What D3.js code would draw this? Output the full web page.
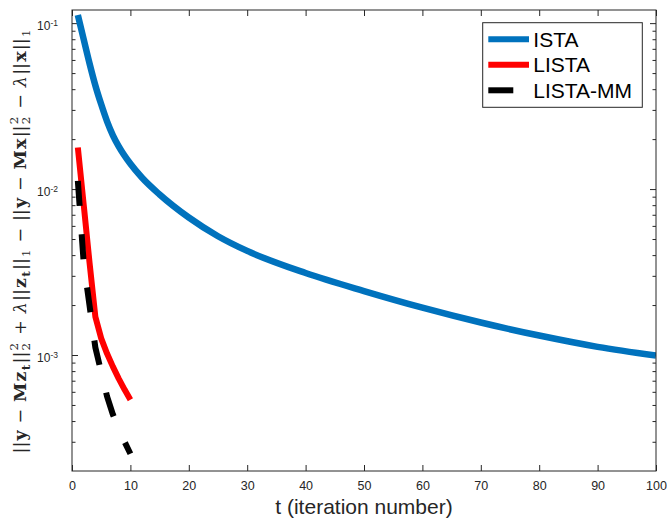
<!DOCTYPE html>
<html>
<head>
<meta charset="utf-8">
<script src="https://cdn.jsdelivr.net/npm/d3@7"></script>
<style>
  html, body { margin: 0; padding: 0; background: #fff; }
  svg { display: block; }
</style>
</head>
<body>
<svg id="chart" width="667" height="519"></svg>
<script>
// ---------------- data ----------------
const istaT = [1, 2, 3, 4, 5, 6, 7, 8, 10, 12, 15, 20, 25, 30, 40, 50, 60, 70, 80, 90, 100];
const istaValues = [0.112, 0.0799, 0.0572, 0.0421, 0.0324, 0.0256, 0.0211, 0.0181, 0.0142, 0.0117,
                    0.00928, 0.00674, 0.00520, 0.00424, 0.00312, 0.00243, 0.00193, 0.00157, 0.00131, 0.00112, 0.000992];
const listaT = [1, 2, 3, 4, 5, 6, 7, 8, 9, 10];
const listaValues = [0.0178, 0.00807, 0.00361, 0.00170, 0.00126, 0.00102, 0.000851, 0.000721, 0.000619, 0.000538];
const listaMMValues = [0.0112, 0.00361, 0.00199, 0.00111, 0.000788, 0.000563, 0.000438, 0.000360, 0.000300, 0.000254];
const seriesNames = ["ISTA", "LISTA", "LISTA-MM"];
const xTicks = [0, 10, 20, 30, 40, 50, 60, 70, 80, 90, 100];
const yMajorTicks = [1e-3, 1e-2, 1e-1];
const yMinorTicks = [3e-4, 4e-4, 5e-4, 6e-4, 7e-4, 8e-4, 9e-4,
                     2e-3, 3e-3, 4e-3, 5e-3, 6e-3, 7e-3, 8e-3, 9e-3,
                     2e-2, 3e-2, 4e-2, 5e-2, 6e-2, 7e-2, 8e-2, 9e-2];
const xLabel = "t (iteration number)";

// ---------------- layout ----------------
const W = 667, H = 519;
const m = { left: 72, right: 11, top: 10, bottom: 48 };
const pw = W - m.left - m.right, ph = H - m.top - m.bottom;
const axisColor = "#262626";
const svg = d3.select("#chart");
svg.append("rect").attr("width", W).attr("height", H).attr("fill", "#fff");

const x = d3.scaleLinear().domain([0, 100]).range([m.left, m.left + pw]);
const y = d3.scaleLog().domain([2e-4, 0.12]).range([m.top + ph, m.top]);

svg.append("defs").append("clipPath").attr("id", "clip")
  .append("rect").attr("x", m.left).attr("y", m.top).attr("width", pw).attr("height", ph);

// ---------------- axes ----------------
function styleAxis(g) {
  g.select(".domain").remove();
  g.selectAll(".tick line").attr("stroke", axisColor).attr("stroke-width", 1);
  g.selectAll(".tick text").attr("fill", axisColor)
    .attr("font-family", "'Liberation Sans', Arial, sans-serif").attr("font-size", 12.5);
}
svg.append("g").attr("transform", `translate(0,${m.top + ph})`)
  .call(d3.axisBottom(x).tickValues(xTicks).tickSize(-6).tickPadding(10.5).tickFormat(d3.format("d")))
  .call(styleAxis);
svg.append("g").attr("transform", `translate(0,${m.top})`)
  .call(d3.axisTop(x).tickValues(xTicks).tickSize(-6).tickFormat(""))
  .call(styleAxis);
// minor y ticks
svg.append("g").attr("transform", `translate(${m.left},0)`)
  .call(d3.axisLeft(y).tickValues(yMinorTicks).tickSize(-3.5).tickFormat(""))
  .call(styleAxis);
svg.append("g").attr("transform", `translate(${m.left + pw},0)`)
  .call(d3.axisRight(y).tickValues(yMinorTicks).tickSize(-3.5).tickFormat(""))
  .call(styleAxis);
svg.append("g").attr("transform", `translate(${m.left + pw},0)`)
  .call(d3.axisRight(y).tickValues(yMajorTicks).tickSize(-6).tickFormat(""))
  .call(styleAxis);
const gYMajor = svg.append("g").attr("transform", `translate(${m.left},0)`)
  .call(d3.axisLeft(y).tickValues(yMajorTicks).tickSize(-6).tickPadding(14).tickFormat(() => ""))
  .call(styleAxis);
gYMajor.selectAll(".tick text").each(function(d) {
  const t = d3.select(this).attr("dy", "0.55em").attr("font-size", 12);
  t.text(null);
  t.append("tspan").text("10");
  t.append("tspan").attr("dy", "-0.45em").attr("font-size", 8.5).text(String(Math.round(Math.log10(d))));
});

// ---------------- lines ----------------
const plot = svg.append("g").attr("clip-path", "url(#clip)");
const istaData = istaT.map((t, i) => [t, istaValues[i]]);
const listaData = listaT.map((t, i) => [t, listaValues[i]]);
const listaMMData = listaT.map((t, i) => [t, listaMMValues[i]]);
const smooth = d3.line().x(d => x(d[0])).y(d => y(d[1])).curve(d3.curveMonotoneX);
const straight = d3.line().x(d => x(d[0])).y(d => y(d[1]));
const styles = [
  { color: "#0072BD", width: 6.5, dash: null },
  { color: "#FF0000", width: 6, dash: null },
  { color: "#000000", width: 6, dash: "25,28.5" }
];
plot.append("path").datum(istaData).attr("d", smooth)
  .attr("fill", "none").attr("stroke", styles[0].color).attr("stroke-width", styles[0].width)
  .attr("stroke-linejoin", "round");
plot.append("path").datum(listaData).attr("d", straight)
  .attr("fill", "none").attr("stroke", styles[1].color).attr("stroke-width", styles[1].width)
  .attr("stroke-linejoin", "round");
plot.append("path").datum(listaMMData).attr("d", straight)
  .attr("fill", "none").attr("stroke", styles[2].color).attr("stroke-width", styles[2].width)
  .attr("stroke-dasharray", styles[2].dash).attr("stroke-linejoin", "round");

// frame
svg.append("rect").attr("x", m.left).attr("y", m.top).attr("width", pw).attr("height", ph)
  .attr("fill", "none").attr("stroke", axisColor).attr("stroke-width", 1);

// ---------------- legend ----------------
const lg = svg.append("g");
lg.append("rect").attr("x", 482.7).attr("y", 22.7).attr("width", 159.6).attr("height", 84.6)
  .attr("fill", "#fff").attr("stroke", axisColor).attr("stroke-width", 1);
seriesNames.forEach((name, i) => {
  const cy = 39.3 + i * 25.5;
  lg.append("line").attr("x1", 488.3).attr("x2", 529).attr("y1", cy).attr("y2", cy)
    .attr("stroke", styles[i].color).attr("stroke-width", 6)
    .attr("stroke-dasharray", styles[i].dash);
  lg.append("text").attr("x", 533.3).attr("y", cy + 7.5).text(name)
    .attr("font-family", "'Liberation Sans', Arial, sans-serif").attr("font-size", 21).attr("fill", "#000");
});

// ---------------- x label ----------------
svg.append("text").attr("x", m.left + pw / 2).attr("y", 514).attr("text-anchor", "middle")
  .attr("font-family", "'Liberation Sans', Arial, sans-serif").attr("font-size", 21)
  .attr("fill", axisColor).text(xLabel);

// ---------------- y label (math) ----------------
const yLabelParts = [
  { t: "||" }, { t: "y", b: 1 }, { t: " − " }, { t: "M", b: 1 }, { t: "z", b: 1 }, { t: "t", b: 1, sub: 1 },
  { t: "||" }, { t: "2", sub: 1 }, { t: "2", sup: 1, stack: 1 }, { t: " + " }, { t: "λ", i: 1 },
  { t: "||" }, { t: "z", b: 1 }, { t: "t", b: 1, sub: 1 }, { t: "||" }, { t: "1", sub: 1 }, { t: " − " },
  { t: "||" }, { t: "y", b: 1 }, { t: " − " }, { t: "M", b: 1 }, { t: "x", b: 1 }, { t: "||" },
  { t: "2", sub: 1 }, { t: "2", sup: 1, stack: 1 }, { t: " − " }, { t: "λ", i: 1 }, { t: "||" },
  { t: "x", b: 1 }, { t: "||" }, { t: "1", sub: 1 }
];
const labelFont = "'DejaVu Serif', 'Liberation Serif', serif";
const labelSize = 17.5;
function layoutLabel(fs, spacing) {
  const g = svg.append("g").attr("class", "ylab");
  let cursor = 0, lastStart = 0;
  const els = [];
  yLabelParts.forEach(p => {
    const small = p.sub || p.sup;
    const size = small ? fs * 0.68 : fs;
    const el = g.append("text").text(p.t)
      .attr("font-family", labelFont)
      .attr("font-size", size)
      .attr("font-weight", p.b ? "bold" : "normal")
      .attr("font-style", p.i ? "italic" : "normal")
      .attr("fill", axisColor)
      .style("white-space", "pre")
      .attr("y", p.sub ? fs * 0.26 : (p.sup ? -fs * 0.45 : 0));
    const w = el.node().getComputedTextLength();
    let xs;
    if (p.stack) { xs = lastStart; cursor = Math.max(cursor, lastStart + w); }
    else { xs = cursor; cursor += w; }
    cursor += spacing;
    el.attr("x", xs);
    lastStart = xs;
    els.push(el);
  });
  return { g, width: cursor - spacing, els };
}
let lab = layoutLabel(labelSize, 0);
const targetLen = 424;
const extra = (targetLen - lab.width) / (yLabelParts.length - 1);
lab.g.remove();
lab = layoutLabel(labelSize, Math.max(-1, Math.min(1.5, extra)));
lab.els.forEach(el => el.attr("x", +el.attr("x") - lab.width / 2));
lab.g.attr("transform", `translate(25.5,${m.top + ph / 2 + 1}) rotate(-90)`);
</script>
</body>
</html>
